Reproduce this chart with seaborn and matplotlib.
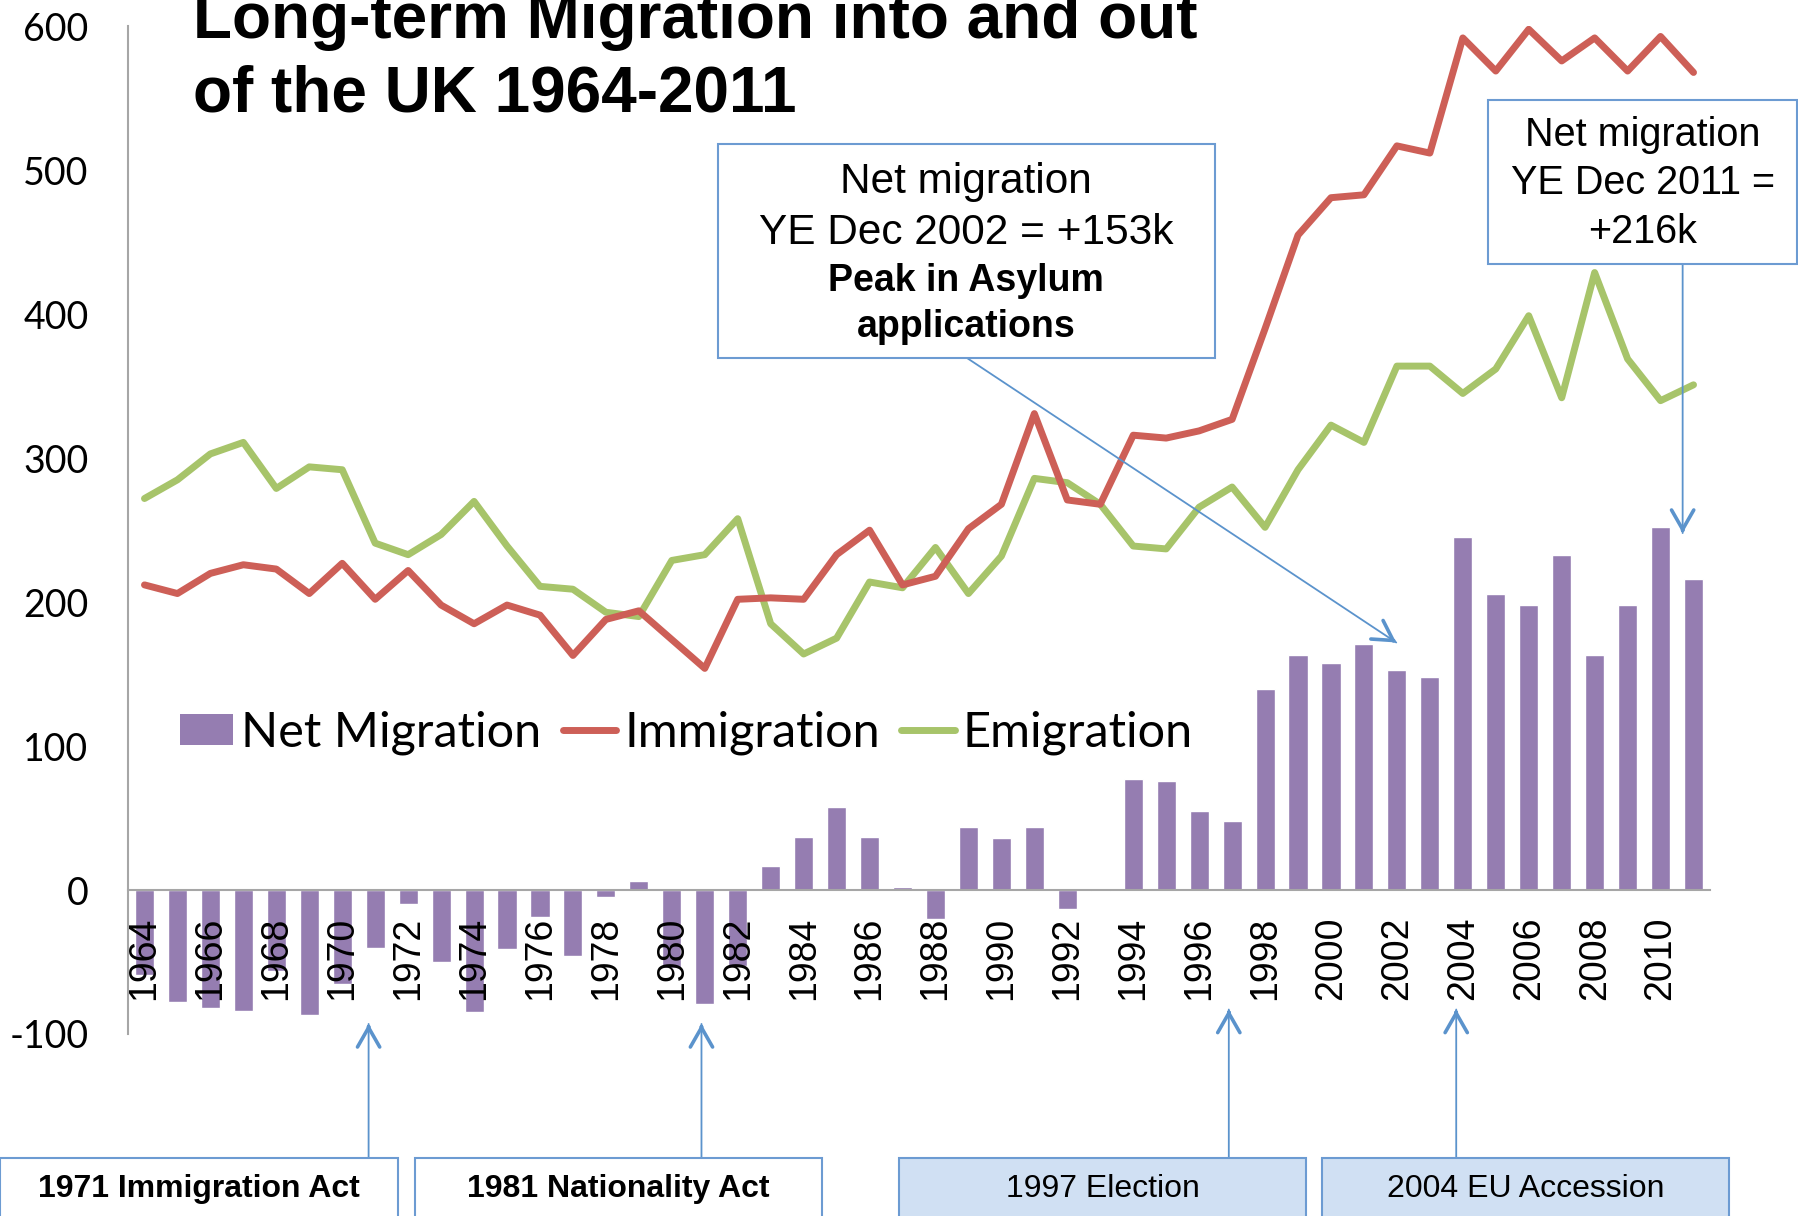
import numpy as np
import pandas as pd
import matplotlib
matplotlib.use("Agg")
import matplotlib.pyplot as plt
from matplotlib.patches import Patch, Rectangle
from matplotlib.lines import Line2D
from matplotlib.transforms import ScaledTranslation
import seaborn as sns

# ---------------------------------------------------------------- data (thousands)
years = list(range(1964, 2012))
immigration = [212, 206, 220, 226, 223, 206, 227, 202, 222, 198,
               185, 198, 191, 163, 188, 194, 174, 154, 202, 203,
               202, 233, 250, 212, 218, 251, 268, 331, 271, 268,
               316, 314, 319, 327, 390, 455, 481, 483, 517, 512,
               592, 569, 598, 576, 592, 569, 593, 568]
emigration = [272, 285, 303, 311, 279, 294, 292, 241, 233, 247,
              270, 239, 211, 209, 193, 190, 229, 233, 258, 185,
              164, 175, 214, 210, 238, 206, 232, 286, 283, 268,
              239, 237, 266, 280, 252, 292, 323, 311, 364, 364,
              345, 362, 399, 342, 429, 369, 340, 351]
net_migration = [-59, -78, -82, -84, -56, -87, -65, -40, -10, -50,
                 -85, -41, -19, -46, -5, 6, -54, -79, -53, 17,
                 37, 58, 37, 2, -20, 44, 36, 44, -13, -1,
                 77, 76, 55, 48, 140, 163, 158, 171, 153, 148,
                 245, 206, 198, 233, 163, 198, 252, 216]
ytick_values = [-100, 0, 100, 200, 300, 400, 500, 600]
series_names = ["Net Migration", "Immigration", "Emigration"]

PURPLE = "#957DB1"
RED = "#CD5F57"
GREEN = "#A7C46A"
ARROW = "#5B93CC"
EDGE = "#6C9BD2"
FILL = "#D0E0F3"
GRAY = "#A6A6A6"

W, H = 1798, 1216

sns.set_style("white")
plt.rcParams["font.family"] = ["Liberation Sans", "DejaVu Sans"]
plt.rcParams["text.color"] = "black"
plt.rcParams["xtick.color"] = "black"
plt.rcParams["ytick.color"] = "black"
plt.rcParams["axes.labelcolor"] = "black"

df = pd.DataFrame({
    "year": [str(y) for y in years],
    "pos": np.arange(len(years)),
    "net": net_migration,
    "imm": immigration,
    "emi": emigration,
})

fig = plt.figure(figsize=(W / 100, H / 100), dpi=100, facecolor="white")
ax = fig.add_axes([128 / W, 1 - 1034 / H, 1582 / W, (1034 - 26.4) / H])

sns.barplot(data=df, x="year", y="net", color=PURPLE, saturation=1,
            width=0.58, ax=ax, zorder=1)
sns.lineplot(data=df, x="pos", y="emi", color=GREEN, lw=5, ax=ax,
             zorder=2, legend=False)
sns.lineplot(data=df, x="pos", y="imm", color=RED, lw=5, ax=ax,
             zorder=2, legend=False)

ax.set_xlim(-0.5, len(years) - 0.5)
ax.set_ylim(-100, 600)
ax.set_xlabel("")
ax.set_ylabel("")
ax.grid(False)
# year labels sit on top of the negative bars
ax.set_axisbelow(False)

# category axis: labels every second year, ticks between the bars
ax.set_xticks(np.arange(-0.5, len(years), 1), minor=True)
ax.tick_params(axis="x", which="minor", length=9.4, width=1.4,
               color=GRAY, direction="out")
ax.tick_params(axis="x", which="major", length=0, pad=19,
               labelsize=27, labelrotation=90, labelcolor="black")
ax.set_xticks(np.arange(0, len(years), 2))
ax.set_xticklabels([str(y) for y in years[::2]], rotation=90, fontsize=27,
                   color="black")
shift = ScaledTranslation(5 / 100, 0, fig.dpi_scale_trans)
for lab in ax.get_xticklabels():
    lab.set_transform(lab.get_transform() + shift)

ax.tick_params(axis="y", length=9.4, width=1.4, color=GRAY,
               direction="out", pad=19, labelsize=27, labelcolor="black")
ax.set_yticks(ytick_values)
ax.set_yticklabels([str(v) for v in ytick_values], fontsize=27,
                   family=["Lato", "DejaVu Sans"], color="black")

for side in ("top", "right"):
    ax.spines[side].set_visible(False)
ax.spines["left"].set_color(GRAY)
ax.spines["left"].set_linewidth(1.5)
ax.spines["bottom"].set_position(("data", 0))
ax.spines["bottom"].set_color(GRAY)
ax.spines["bottom"].set_linewidth(1.5)

# legend
handles = [
    Patch(facecolor=PURPLE, edgecolor="none"),
    Line2D([], [], color=RED, lw=5, solid_capstyle="round"),
    Line2D([], [], color=GREEN, lw=5, solid_capstyle="round"),
]
ax.legend(handles, series_names, loc="center left",
          bbox_to_anchor=(180 / W, 1 - 733 / H), bbox_transform=fig.transFigure,
          ncol=3, frameon=False, borderpad=0, borderaxespad=0,
          handlelength=1.1, handleheight=0.62, handletextpad=0.16,
          columnspacing=0.44, prop={"family": "Lato", "size": 35},
          labelcolor="black")

# title
fig.text(193 / W, 1 - 38 / H, "Long-term Migration into and out",
         fontsize=46, fontweight="bold", va="baseline", ha="left", color="black")
fig.text(193 / W, 1 - 112 / H, "of the UK 1964-2011",
         fontsize=46, fontweight="bold", va="baseline", ha="left", color="black")


def box(x0, y0, x1, y1, fc="white"):
    fig.add_artist(Rectangle((x0 / W, 1 - y1 / H), (x1 - x0) / W, (y1 - y0) / H,
                             transform=fig.transFigure, facecolor=fc,
                             edgecolor=EDGE, lw=1.5, zorder=5, clip_on=False))


def label(x, y, s, size, weight="normal"):
    fig.text(x / W, 1 - y / H, s, fontsize=size, fontweight=weight,
             ha="center", va="center", zorder=6, color="black")


def arrow(tip, start, coords, head_dir):
    shaft = ax.annotate("", xy=tip, xycoords="data", xytext=start,
                        textcoords=coords, annotation_clip=False,
                        arrowprops=dict(arrowstyle="-", color=ARROW, lw=1.3,
                                        shrinkA=0, shrinkB=0))
    shaft.arrow_patch.set_clip_on(False)
    head = ax.annotate("", xy=tip, xycoords="data", xytext=head_dir,
                       textcoords="offset points", annotation_clip=False,
                       arrowprops=dict(arrowstyle="->,head_length=0.7,head_width=0.4",
                                       mutation_scale=20, color=ARROW, lw=2.6,
                                       shrinkA=0, shrinkB=0))
    head.arrow_patch.set_clip_on(False)


# call-out for 2002
box(718, 144, 1215, 358)
label(966, 182, "Net migration", 30.5)
label(966, 233, "YE Dec 2002 = +153k", 30.5)
label(966, 281, "Peak in Asylum", 27, "bold")
label(966, 327, "applications", 27, "bold")
d = np.array([967 - 1397, -(358 - 642)], dtype=float)
d = d / np.hypot(*d) * 2.5
arrow((37.98, 172), (967, H - 358), "figure pixels", tuple(d))

# call-out for 2011
box(1488, 100, 1797, 264)
label(1643, 135, "Net migration", 28.5)
label(1643, 183, "YE Dec 2011 =", 28.5)
label(1643, 232, "+216k", 28.5)
arrow((46.67, 248), (46.67, H - 264), ("data", "figure pixels"), (0, 2.5))

# policy events along the bottom
events = [
    (0, 398, "1971 Immigration Act", "bold", "white", 6.8, -93),
    (415, 822, "1981 Nationality Act", "bold", "white", 16.9, -93),
    (899, 1306, "1997 Election", "normal", FILL, 32.9, -83),
    (1322, 1729, "2004 EU Accession", "normal", FILL, 39.8, -83),
]
for x0, x1, text, weight, fc, xd, yd in events:
    box(x0, 1158, x1, 1240, fc)
    label((x0 + x1) / 2, 1189, text, 23, weight)
    arrow((xd, yd), (xd, H - 1158), ("data", "figure pixels"), (0, -2.5))

fig.savefig("out.png", dpi=100, facecolor="white")
